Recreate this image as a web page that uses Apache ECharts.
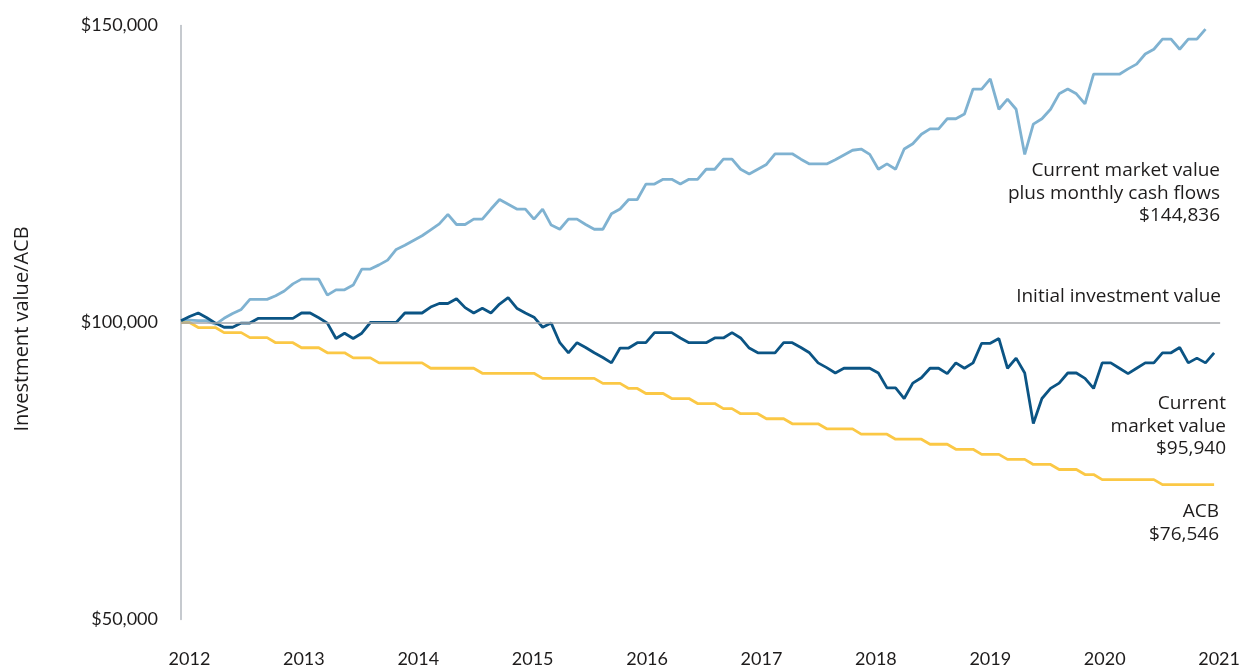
<!DOCTYPE html>
<html>
<head>
<meta charset="utf-8">
<script src="https://cdn.jsdelivr.net/npm/echarts@6/dist/echarts.min.js"></script>
<style>
html,body{margin:0;padding:0;background:#fff;}
#chart{width:1243px;height:670px;}
</style>
</head>
<body>
<div id="chart"></div>
<script>
// Year tick labels on the horizontal axis
const yearLabels = [2012, 2013, 2014, 2015, 2016, 2017, 2018, 2019, 2020, 2021];
// Vertical axis ticks
const yTicks = [50000, 100000, 150000];
const initialInvestment = 100000;

// Monthly values (121 monthly points, index 0 = first month)
const marketPlusCashFlows = [
  100400,100400,100300,100300,99700,100700,101500,102200,103900,103900,
  103900,104500,105300,106500,107300,107300,107300,104600,105500,105500,
  106300,109000,109000,109700,110500,112300,113000,113800,114600,115600,
  116600,118200,116500,116500,117400,117400,119100,120700,119900,119100,
  119100,117400,119100,116400,115700,117400,117400,116500,115700,115700,
  118300,119100,120700,120700,123300,123300,124100,124100,123300,124100,
  124100,125800,125800,127500,127500,125800,125000,125800,126600,128400,
  128400,128400,127500,126700,126700,126700,127400,128200,129000,129200,
  128300,125800,126700,125800,129200,130100,131700,132600,132600,134300,
  134300,135100,139300,139300,141000,135900,137600,135900,128300,133400,
  134300,135900,138500,139300,138500,136800,141800,141800,141800,141800,
  142700,143500,145200,146000,147700,147700,146000,147700,147700,149400
];

const marketValue = [
  100300,101000,101600,100800,99900,99200,99200,99900,99900,100700,
  100700,100700,100700,100700,101600,101600,100800,99900,97300,98200,
  97300,98200,100000,100000,100000,100000,101600,101600,101600,102600,
  103200,103200,104000,102500,101600,102400,101600,103100,104200,102400,
  101600,100900,99200,99900,96600,94900,96600,95800,94900,94100,
  93200,95700,95700,96600,96600,98300,98300,98300,97400,96600,
  96600,96600,97400,97400,98300,97400,95700,94900,94900,94900,
  96600,96600,95800,94900,93200,92400,91500,92300,92300,92300,
  92300,91500,89000,89000,87200,89800,90700,92300,92300,91400,
  93200,92300,93200,96500,96500,97300,92300,94000,91500,83000,
  87200,88900,89800,91500,91500,90600,88900,93200,93200,92300,
  91400,92300,93200,93200,94900,94900,95800,93200,94000,93200,94900
];

const acb = [
  100000,100000,
  99150,99150,99150,
  98300,98300,98300,
  97450,97450,97450,
  96600,96600,96600,
  95750,95750,95750,
  94900,94900,94900,
  94050,94050,94050,
  93200,93200,93200,93200,93200,93200,
  92300,92300,92300,92300,92300,92300,
  91450,91450,91450,91450,91450,91450,91450,
  90600,90600,90600,90600,90600,90600,90600,
  89750,89750,89750,
  88900,88900,
  88050,88050,88050,
  87200,87200,87200,
  86350,86350,86350,
  85500,85500,
  84650,84650,84650,
  83800,83800,83800,
  82950,82950,82950,82950,
  82100,82100,82100,82100,
  81200,81200,81200,81200,
  80350,80350,80350,80350,
  79500,79500,79500,
  78650,78650,78650,
  77800,77800,77800,
  76950,76950,76950,
  76100,76100,76100,
  75250,75250,75250,
  74400,74400,
  73550,73550,73550,73550,73550,73550,73550,
  72700,72700,72700,72700,72700,72700,72700
];

const yAxisTitle = 'Investment value/ACB';
const annotations = [
  {lines: ['Current market value', 'plus monthly cash flows', '$144,836'], right: 1220, top: 171},
  {lines: ['Initial investment value'], right: 1221, top: 297},
  {lines: ['Current', 'market value', '$95,940'], right: 1226, top: 404},
  {lines: ['ACB', '$76,546'], right: 1219, top: 512}
];

const FONT = 'Lato, "Open Sans", sans-serif';
const NOTE_FONT = '"Open Sans", Lato, sans-serif';
const TEXT = '#1e1c1c';

function money(v) {
  return '$' + String(v).replace(/\B(?=(\d{3})+(?!\d))/g, ',');
}
function pairs(arr) { return arr.map((v, i) => [i, v]); }

const graphics = [];
annotations.forEach(a => {
  a.lines.forEach((t, k) => {
    graphics.push({
      type: 'text', x: a.right, y: a.top + k * 22.5, silent: true,
      style: {text: t, textAlign: 'right', textVerticalAlign: 'middle',
              font: '19px ' + NOTE_FONT, fill: TEXT}
    });
  });
});
graphics.push({
  type: 'text', x: 22, y: 329, rotation: Math.PI / 2, silent: true,
  style: {text: yAxisTitle, textAlign: 'center', textVerticalAlign: 'middle',
          font: '20px ' + NOTE_FONT, fill: TEXT}
});

const chart = echarts.init(document.getElementById('chart'), null, {renderer: 'canvas'});
chart.setOption({
  animation: false,
  backgroundColor: '#ffffff',
  grid: {left: 181, right: 22, top: 25.5, bottom: 50.5, containLabel: false},
  xAxis: [
    {type: 'value', min: 0, max: 120.7, show: false},
    {type: 'value', min: 2011.926, max: 2021.009, position: 'bottom',
     axisLine: {show: false, onZero: false}, axisTick: {show: false}, splitLine: {show: false},
     axisLabel: {customValues: yearLabels, formatter: v => String(Math.round(v)),
                 margin: 31, fontFamily: FONT, fontSize: 18, color: TEXT}}
  ],
  yAxis: {
    type: 'value', min: yTicks[0], max: yTicks[yTicks.length - 1], interval: 50000,
    axisLine: {show: true, onZero: false, lineStyle: {color: '#b3b8bf', width: 1.5}},
    axisTick: {show: false}, splitLine: {show: false},
    axisLabel: {margin: 23, formatter: money, fontFamily: FONT, fontSize: 18, color: TEXT}
  },
  series: [
    {type: 'line', name: 'ACB', xAxisIndex: 0, data: pairs(acb), showSymbol: false,
     lineStyle: {color: '#fbc845', width: 2.8}, itemStyle: {color: '#fbc845'},
     emphasis: {disabled: true}, z: 2,
     markLine: {silent: true, symbol: 'none', label: {show: false},
                lineStyle: {color: '#a3a6aa', width: 1.5, type: 'solid'},
                emphasis: {disabled: true},
                data: [{yAxis: initialInvestment}]}},
    {type: 'line', name: 'Current market value plus monthly cash flows', xAxisIndex: 0,
     data: pairs(marketPlusCashFlows), showSymbol: false,
     lineStyle: {color: '#7fb2d1', width: 2.8}, itemStyle: {color: '#7fb2d1'},
     emphasis: {disabled: true}, z: 3},
    {type: 'line', name: 'Current market value', xAxisIndex: 0,
     data: pairs(marketValue), showSymbol: false,
     lineStyle: {color: '#0b5484', width: 2.8}, itemStyle: {color: '#0b5484'},
     emphasis: {disabled: true}, z: 4}
  ],
  graphic: graphics
});
</script>
</body>
</html>
